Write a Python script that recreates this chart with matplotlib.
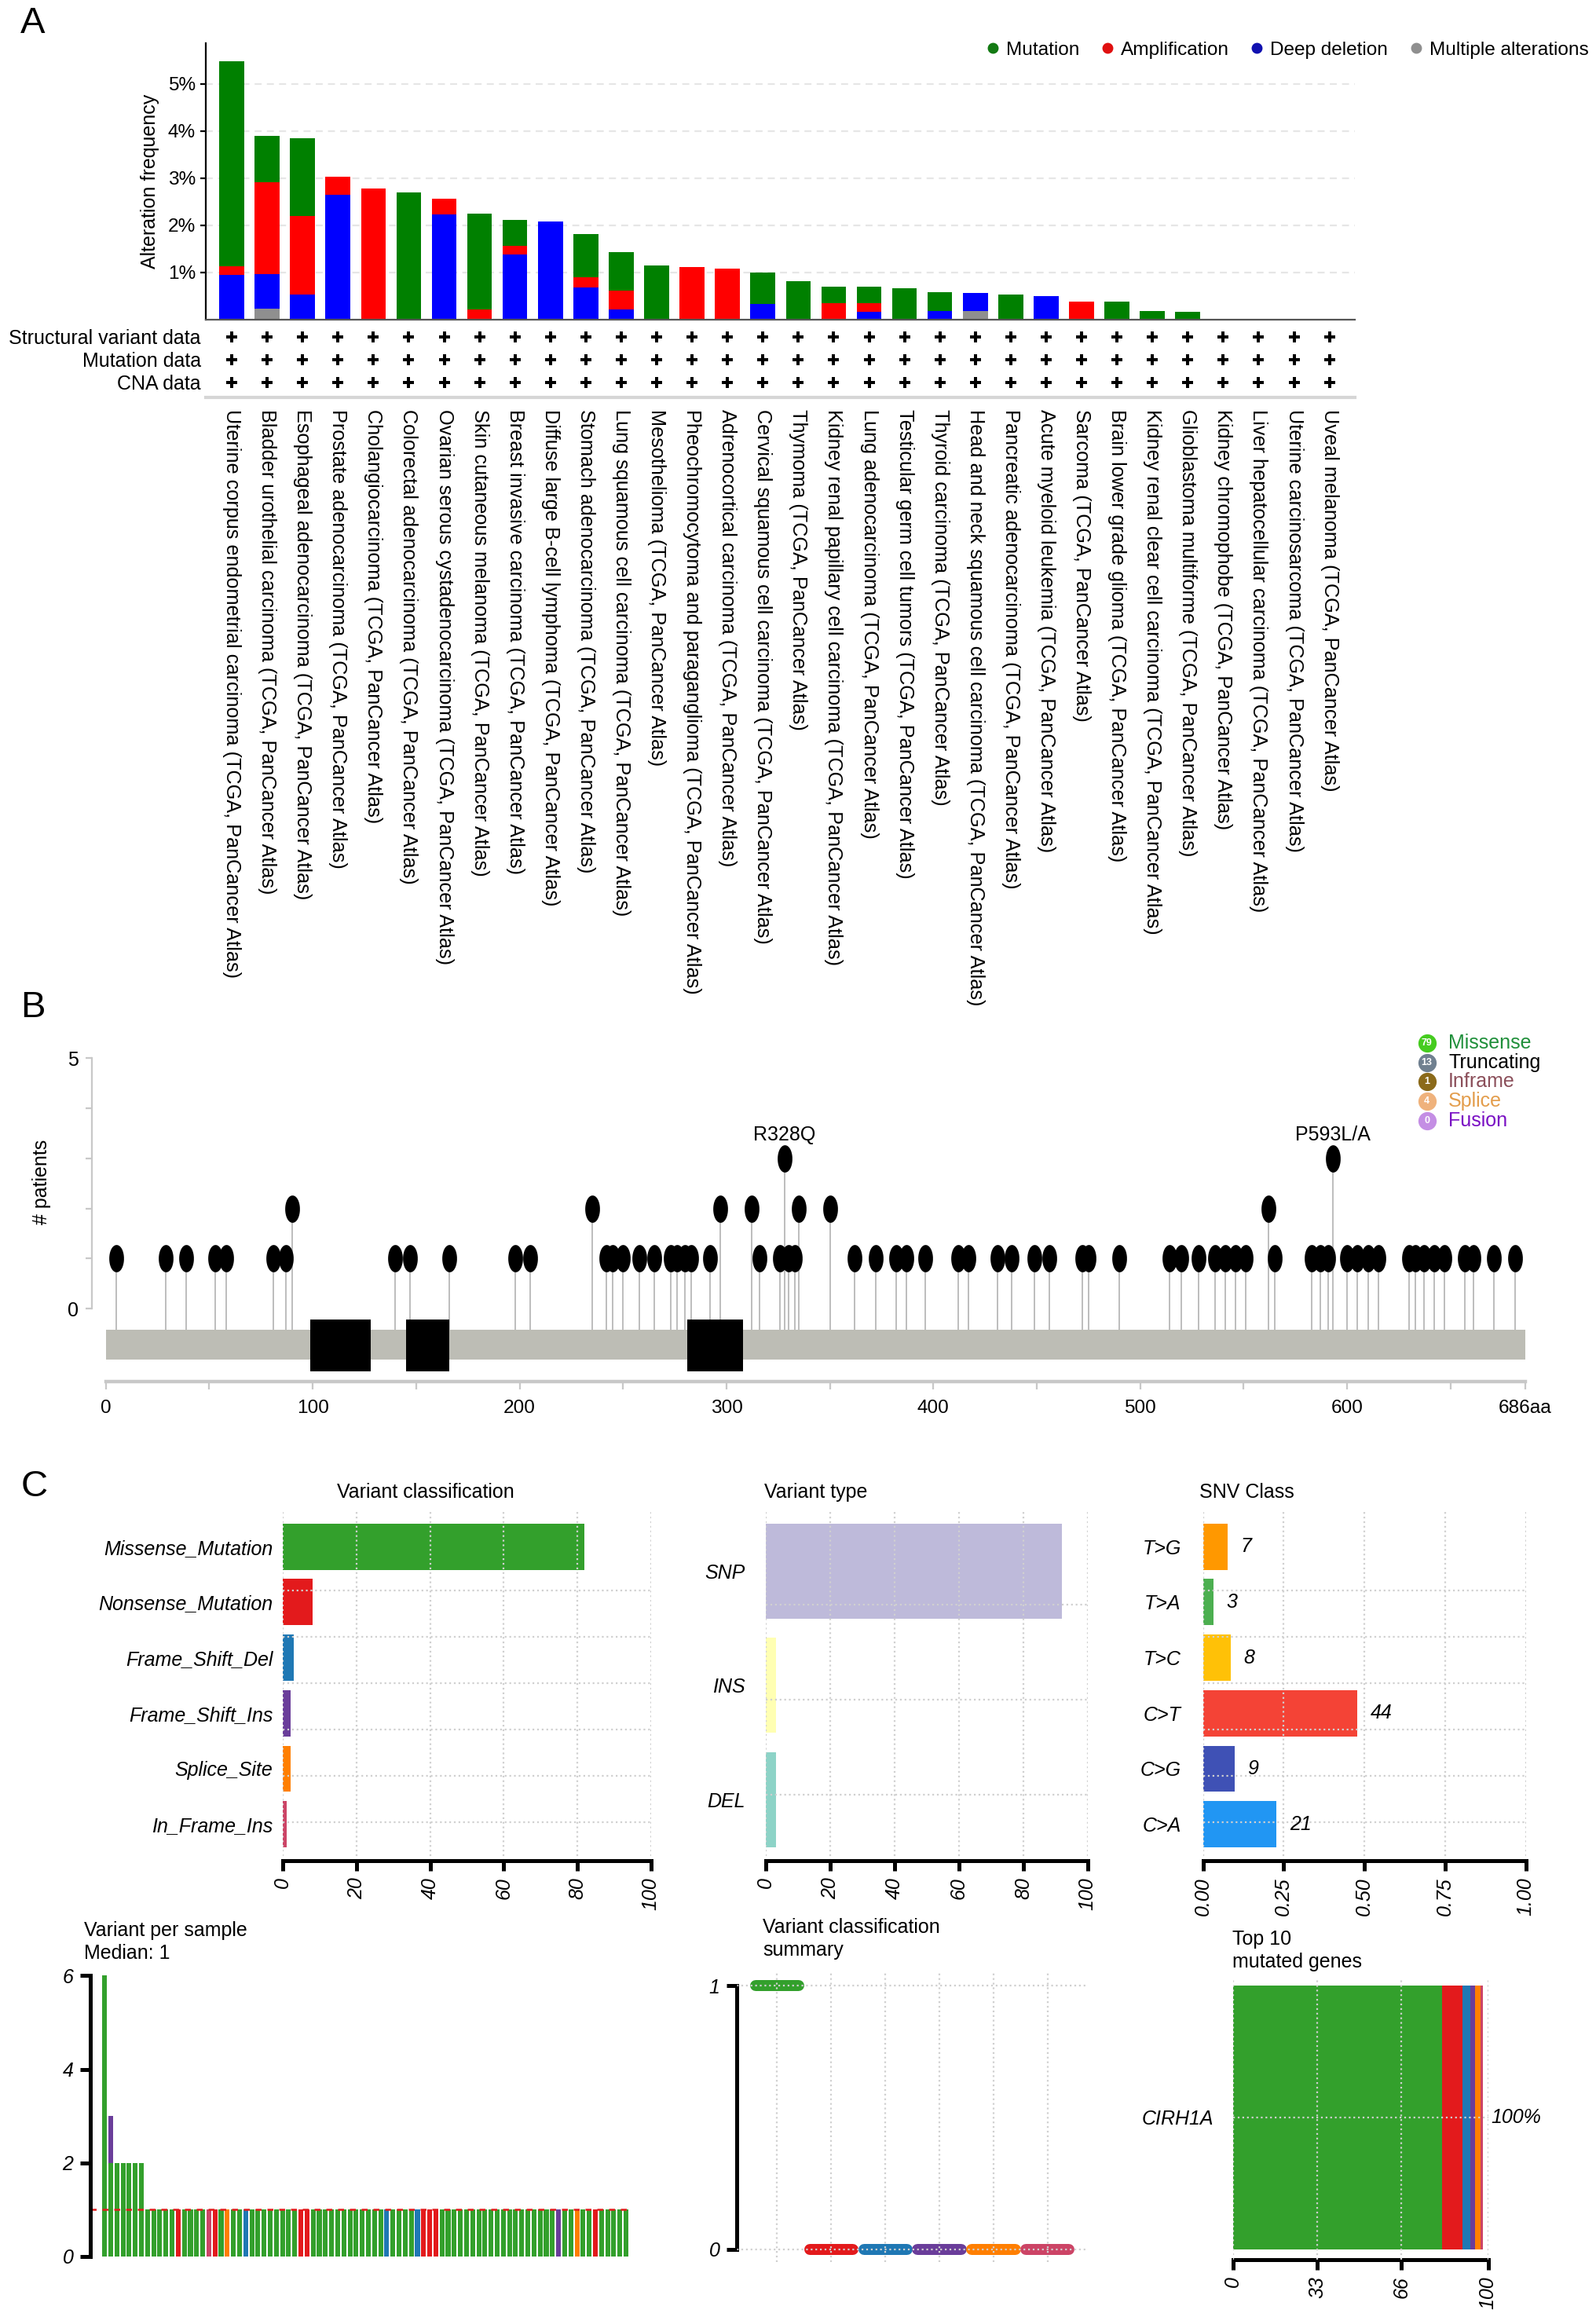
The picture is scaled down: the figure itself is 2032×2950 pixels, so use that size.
import numpy as np
import matplotlib
matplotlib.use('Agg')
import matplotlib.pyplot as plt
from matplotlib.lines import Line2D
from matplotlib.path import Path

plt.rcParams['font.family'] = ['Liberation Sans', 'DejaVu Sans']
plt.rcParams['font.size'] = 9

# ---------------- panel A data (alteration frequency, %)
cancer_types = ['Uterine corpus endometrial carcinoma', 'Bladder urothelial carcinoma',
                'Esophageal adenocarcinoma', 'Prostate adenocarcinoma', 'Cholangiocarcinoma',
                'Colorectal adenocarcinoma', 'Ovarian serous cystadenocarcinoma',
                'Skin cutaneous melanoma', 'Breast invasive carcinoma',
                'Diffuse large B-cell lymphoma', 'Stomach adenocarcinoma',
                'Lung squamous cell carcinoma', 'Mesothelioma',
                'Pheochromocytoma and paraganglioma', 'Adrenocortical carcinoma',
                'Cervical squamous cell carcinoma', 'Thymoma',
                'Kidney renal papillary cell carcinoma', 'Lung adenocarcinoma',
                'Testicular germ cell tumors', 'Thyroid carcinoma',
                'Head and neck squamous cell carcinoma', 'Pancreatic adenocarcinoma',
                'Acute myeloid leukemia', 'Sarcoma', 'Brain lower grade glioma',
                'Kidney renal clear cell carcinoma', 'Glioblastoma multiforme',
                'Kidney chromophobe', 'Liver hepatocellular carcinoma',
                'Uterine carcinosarcoma', 'Uveal melanoma']
study_suffix = ' (TCGA, PanCancer Atlas)'
mutation = [4.34, 0.97, 1.65, 0, 0, 2.69, 0, 2.03, 0.56, 0, 0.91, 0.81, 1.15, 0, 0, 0.66,
            0.81, 0.35, 0.35, 0.66, 0.40, 0, 0.54, 0, 0, 0.38, 0.19, 0.17, 0, 0, 0, 0]
amplification = [0.19, 1.95, 1.65, 0.39, 2.78, 0, 0.34, 0.22, 0.18, 0, 0.21, 0.41, 0, 1.12,
                 1.09, 0, 0, 0.35, 0.18, 0, 0, 0, 0, 0, 0.39, 0, 0, 0, 0, 0, 0, 0]
deep_deletion = [0.95, 0.73, 0.54, 2.64, 0, 0, 2.23, 0, 1.38, 2.08, 0.69, 0.21, 0, 0, 0, 0.34,
                 0, 0, 0.17, 0, 0.19, 0.37, 0, 0.50, 0, 0, 0, 0, 0, 0, 0, 0]
multiple = [0, 0.24, 0, 0, 0, 0, 0, 0, 0, 0, 0, 0, 0, 0, 0, 0,
            0, 0, 0, 0, 0, 0.19, 0, 0, 0, 0, 0, 0, 0, 0, 0, 0]
data_rows = ['Structural variant data', 'Mutation data', 'CNA data']

# ---------------- panel B data (lollipop)
protein_len = 686
pos_1 = [5, 29, 39, 53, 58, 81, 87, 140, 147, 166, 198, 205, 242, 245, 250, 258, 265, 273,
         276, 280, 283, 292, 316, 326, 330, 333, 362, 372, 382, 387, 396, 412, 417, 431, 438,
         449, 456, 472, 475, 490, 514, 520, 528, 536, 541, 546, 551, 565, 583, 587, 591, 600,
         605, 610, 615, 630, 633, 637, 642, 647, 657, 661, 671, 681]
pos_2 = [90, 235, 297, 312, 335, 350, 562]
pos_3 = [328, 593]
hotspot_labels = {328: 'R328Q', 593: 'P593L/A'}
domain_start = [99, 145, 281]
domain_len = [29, 21, 27]
legB_names = ['Missense', 'Truncating', 'Inframe', 'Splice', 'Fusion']
legB_counts = [79, 13, 1, 4, 0]
legB_dot = ['#45cc1f', '#708090', '#8b6a1a', '#efb27c', '#c48ee4']
legB_text = ['#1f8f3a', '#000000', '#8b4f5a', '#e39d4c', '#7a10c4']

# ---------------- panel C data
vc_labels = ['Missense_Mutation', 'Nonsense_Mutation', 'Frame_Shift_Del',
             'Frame_Shift_Ins', 'Splice_Site', 'In_Frame_Ins']
vc_counts = [82, 8, 3, 2, 2, 1]
vc_colors = ['#33a02c', '#e31a1c', '#1f78b4', '#6a3d9a', '#ff7f00', '#cc4466']
vc_codes = ['M', 'N', 'D', 'F', 'S', 'I']
vt_labels = ['SNP', 'INS', 'DEL']
vt_counts = [92, 3, 3]
vt_colors = ['#bebada', '#ffffb3', '#8dd3c7']
snv_labels = ['T>G', 'T>A', 'T>C', 'C>T', 'C>G', 'C>A']
snv_counts = [7, 3, 8, 44, 9, 21]
snv_colors = ['#ff9800', '#4caf50', '#ffc107', '#f44336', '#3f51b5', '#2196f3']
# per sample variant classes (one letter per variant)
vps_samples = ['MMMMMM', 'MMF', 'MM', 'MM', 'MM', 'MM', 'MM'] + list(
    'MMMMMNMMMMINMSMMDMMMMMMMMNNMMMMMMMMMMMMDMMMMDNNN'
    'MMMMMMMMMMMMMMMMMMMFMMSMMNMMMMM')
top_gene = ['CIRH1A']
top_gene_pct = [100]

W, H = 1080.0, 1568.0


def box(x0, y0, x1, y1):
    return [x0 / W, 1 - y1 / H, (x1 - x0) / W, (y1 - y0) / H]


fig = plt.figure(figsize=(10.16, 14.75), dpi=200)

for lab, y in [('A', 16), ('B', 682), ('C', 1006)]:
    fig.text(14 / W, 1 - y / H, lab, fontsize=17, va='center', ha='left')

# ================= A
col_mut, col_amp, col_del, col_mult = '#008000', '#ff0000', '#0000ff', '#8f8f8f'
x = np.arange(len(cancer_types))
axA = fig.add_axes(box(139, 29, 917, 216.3))
b0 = np.zeros(len(x))
for vals, c in [(multiple, col_mult), (deep_deletion, col_del),
                (amplification, col_amp), (mutation, col_mut)]:
    axA.bar(x, vals, bottom=b0, width=0.7, color=c, zorder=2)
    b0 = b0 + np.array(vals)
axA.set_xlim(-0.743, len(x) - 1 + 0.726)
axA.set_ylim(0, 5.87)
axA.set_yticks([1, 2, 3, 4, 5])
axA.set_yticklabels(['%d%%' % v for v in [1, 2, 3, 4, 5]], fontsize=8.8)
axA.set_xticks([])
axA.yaxis.grid(True, ls=(0, (4, 3)), color='#e6e6e6', lw=0.8)
axA.spines['top'].set_visible(False)
axA.spines['right'].set_visible(False)
axA.spines['bottom'].set_color('#555555')
axA.spines['left'].set_linewidth(0.8)
axA.tick_params(axis='y', length=2.5, width=0.8, pad=2)
axA.set_ylabel('Alteration frequency', fontsize=9, labelpad=4)

axL = fig.add_axes(box(139, 219, 917, 269))
for r, name in enumerate(data_rows):
    axL.scatter(x, np.full(len(x), r), marker='P', s=22, color='black', linewidths=0)
axL.set_xlim(axA.get_xlim())
axL.set_ylim(2.68, -0.59)
axL.set_yticks(range(len(data_rows)))
axL.set_yticklabels(data_rows, fontsize=9)
axL.set_xticks(x)
axL.set_xticklabels([c + study_suffix for c in cancer_types], rotation=-90,
                    ha='center', va='top', fontsize=9.1)
axL.tick_params(length=0)
axL.tick_params(axis='x', pad=5.5)
axL.tick_params(axis='y', pad=2)
for s in ['top', 'right', 'left']:
    axL.spines[s].set_visible(False)
axL.spines['bottom'].set_color('#d6d6d6')
axL.spines['bottom'].set_linewidth(1.5)

handles = [Line2D([], [], marker='o', ls='none', ms=4, color=c)
           for c in ['#137a13', '#e01010', '#1010b0', '#8f8f8f']]
fig.legend(handles, ['Mutation', 'Amplification', 'Deep deletion', 'Multiple alterations'],
           loc='center right', bbox_to_anchor=(1075 / W, 1 - 34 / H), ncol=4,
           frameon=False, fontsize=8.8, handlelength=0.7, handletextpad=0.35,
           columnspacing=1.1, borderaxespad=0, borderpad=0)

# ================= B
axB = fig.add_axes(box(62, 709.4, 1040, 939.9))
axB.set_xlim(-6.86, 691.7)
axB.set_ylim(-1.6, 5.2)
axB.barh(-0.716, protein_len, height=0.59, left=0, color='#bdbdb5', zorder=1)
axB.barh(np.full(len(domain_start), -0.729), domain_len, height=1.03, left=domain_start,
         color='black', zorder=3)
lp_pos = pos_1 + pos_2 + pos_3
lp_cnt = [1] * len(pos_1) + [2] * len(pos_2) + [3] * len(pos_3)
axB.vlines(lp_pos, -0.42, lp_cnt, color='#bdbdbd', lw=0.7, zorder=2)
th = np.linspace(0, 2 * np.pi, 60)
oval = Path(np.column_stack([0.5 * np.cos(th), np.sin(th)]))
axB.plot(lp_pos, lp_cnt, ls='none', marker=oval, ms=11.5, color='black', zorder=4)
for p, t in hotspot_labels.items():
    axB.text(p, lp_cnt[lp_pos.index(p)] + 0.47, t, ha='center', va='center', fontsize=9)
for s in ['top', 'right']:
    axB.spines[s].set_visible(False)
axB.spines['left'].set_bounds(0, 5)
axB.spines['left'].set_color('#c8c8c8')
axB.set_yticks([0, 1, 2, 3, 4, 5])
axB.set_yticklabels(['0', '', '', '', '', '5'], fontsize=9)
axB.tick_params(axis='y', length=3, color='#c8c8c8', pad=3)
axB.spines['bottom'].set_position(('data', -1.45))
axB.spines['bottom'].set_bounds(0, protein_len)
axB.spines['bottom'].set_color('#c8c8c8')
axB.spines['bottom'].set_linewidth(1.6)
bt = list(range(0, 651, 50)) + [protein_len]
axB.set_xticks(bt)
axB.set_xticklabels([str(v) if v % 100 == 0 else '' for v in bt[:-1]] + ['%daa' % protein_len],
                    fontsize=8.8)
axB.tick_params(axis='x', length=3.5, color='#c8c8c8', pad=5)
axB.set_ylabel('# patients', fontsize=9)
axB.yaxis.set_label_coords(-0.028, 0.607)

legB = fig.add_axes(box(955, 698, 1060, 765))
legB.set_xlim(0, 1)
legB.set_ylim(len(legB_names) - 0.5, -0.6)
legB.axis('off')
for i, (nm, n, dc, tc) in enumerate(zip(legB_names, legB_counts, legB_dot, legB_text)):
    legB.scatter(0.1, i, s=70, color=dc, linewidths=0)
    legB.text(0.1, i, str(n), color='white', fontsize=4.5, ha='center', va='center',
              fontweight='bold')
    legB.text(0.24, i, nm, color=tc, fontsize=9, ha='left', va='center')

# ================= C row 1
def class_bars(rect, labels, values, colors, xmax, xticks, xticklabels, ylim, grid_y, ypad):
    ax = fig.add_axes(rect)
    centers = 0.7 + 1.2 * np.arange(len(labels))
    ax.barh(centers, values, height=1.0, color=colors)
    ax.set_xlim(0, xmax)
    ax.set_ylim(*ylim)
    ax.set_yticks(centers)
    ax.set_yticklabels(labels, fontstyle='italic', fontsize=9)
    ax.set_yticks(grid_y, minor=True)
    ax.tick_params(axis='y', which='both', length=0, pad=ypad)
    ax.set_xticks(xticks)
    ax.set_xticklabels(xticklabels, rotation=90, fontstyle='italic', fontsize=9, va='top')
    ax.tick_params(axis='x', length=4.7, width=1.8, pad=3)
    for s in ['top', 'right', 'left']:
        ax.spines[s].set_visible(False)
    ax.spines['bottom'].set_linewidth(1.8)
    ax.spines['bottom'].set_bounds(0, xmax)
    ax.xaxis.grid(True, ls=':', color='#d0d0d0', lw=0.8)
    ax.yaxis.grid(True, which='minor', ls=':', color='#d0d0d0', lw=0.8)
    return ax, centers


axVC, _ = class_bars(box(191.5, 1022, 440.4, 1259), vc_labels, vc_counts, vc_colors, 100,
                     [0, 20, 40, 60, 80, 100], ['0', '20', '40', '60', '80', '100'],
                     (7.48, -0.086), [1.65, 2.65, 3.65, 4.65, 5.65, 6.65], 4.7)
axVT, _ = class_bars(box(518.4, 1022, 736, 1259), vt_labels, vt_counts, vt_colors, 100,
                     [0, 20, 40, 60, 80, 100], ['0', '20', '40', '60', '80', '100'],
                     (3.74, 0.06), [1.05, 2.05, 3.05], 9.5)
snv_frac = np.array(snv_counts) / sum(snv_counts)
axSNV, snv_c = class_bars(box(814, 1022, 1032.6, 1259), snv_labels, snv_frac, snv_colors, 1.0,
                          [0, 0.25, 0.5, 0.75, 1.0], ['0.00', '0.25', '0.50', '0.75', '1.00'],
                          (7.48, -0.086), [1.65, 2.65, 3.65, 4.65, 5.65, 6.65], 10)
for yc, f, n in zip(snv_c, snv_frac, snv_counts):
    axSNV.text(f + 0.04, yc, str(n), fontstyle='italic', fontsize=9, va='center', ha='left')

fig.text(228 / W, 1 - 1010 / H, 'Variant classification', fontsize=9, va='center')
fig.text(517 / W, 1 - 1010 / H, 'Variant type', fontsize=9, va='center')
fig.text(811.5 / W, 1 - 1010 / H, 'SNV Class', fontsize=9, va='center')

# ================= C row 2
per_class = np.array([[s.count(c) for s in vps_samples] for c in vc_codes])
totals = per_class.sum(axis=0)
idx = np.arange(len(vps_samples))

axVPS = fig.add_axes(box(61, 1333.8, 425.7, 1530.2))
bot = np.zeros(len(idx))
for k in range(len(vc_codes)):
    axVPS.bar(idx, per_class[k], bottom=bot, width=0.78, color=vc_colors[k], linewidth=0)
    bot = bot + per_class[k]
med = np.median(totals)
axVPS.axhline(med, color='#e31a1c', ls=(0, (3, 3)), lw=0.9)
axVPS.set_xlim(-2.35, len(idx) - 0.5)
axVPS.set_ylim(-0.1, 6.1)
axVPS.set_xticks([])
axVPS.set_yticks([0, 2, 4, 6])
axVPS.set_yticklabels(['0', '2', '4', '6'], fontstyle='italic', fontsize=9)
axVPS.tick_params(axis='y', length=4.7, width=1.8, pad=3)
for s in ['top', 'right', 'bottom']:
    axVPS.spines[s].set_visible(False)
axVPS.spines['left'].set_linewidth(1.8)
axVPS.spines['left'].set_bounds(0, 6)
fig.text(57 / W, 1 - 1300 / H, 'Variant per sample\nMedian: %d' % med, fontsize=9,
         va='top', ha='left', linespacing=1.25)

axBX = fig.add_axes(box(498.6, 1335, 734.6, 1531))
bp = axBX.boxplot([per_class[k] for k in range(len(vc_codes))],
                  positions=np.arange(1, len(vc_codes) + 1), widths=0.8,
                  patch_artist=True, showfliers=False, showcaps=False)
for k, patch in enumerate(bp['boxes']):
    patch.set_facecolor(vc_colors[k])
    patch.set_edgecolor(vc_colors[k])
    patch.set_linewidth(5)
    patch.set_joinstyle('round')
for k, m in enumerate(bp['medians']):
    m.set_color(vc_colors[k])
    m.set_linewidth(5)
    m.set_solid_capstyle('round')
for w in bp['whiskers']:
    w.set_visible(False)
axBX.set_xlim(0.257, 6.70)
axBX.set_ylim(-0.05, 1.05)
axBX.set_xticks(np.arange(1, len(vc_codes) + 1))
axBX.set_xticklabels([])
axBX.tick_params(axis='x', length=0)
axBX.set_yticks([0, 1])
axBX.set_yticklabels(['0', '1'], fontstyle='italic', fontsize=9)
axBX.tick_params(axis='y', length=4.7, width=1.8, pad=3)
for s in ['top', 'right', 'bottom']:
    axBX.spines[s].set_visible(False)
axBX.spines['left'].set_linewidth(1.8)
axBX.spines['left'].set_bounds(0, 1)
axBX.set_axisbelow(False)
axBX.grid(True, ls=':', color='#d0d0d0', lw=0.8)
fig.text(516 / W, 1 - 1298 / H, 'Variant classification\nsummary', fontsize=9,
         va='top', ha='left', linespacing=1.25)

axTG = fig.add_axes(box(834.6, 1340, 1007, 1529))
left = 0
for k in range(len(vc_codes)):
    axTG.barh(0, vc_counts[k], left=left, height=1.0, color=vc_colors[k])
    left += vc_counts[k]
axTG.set_xlim(0, 100)
axTG.set_ylim(-0.539, 0.522)
axTG.set_yticks([0])
axTG.set_yticklabels(top_gene, fontstyle='italic', fontsize=9)
axTG.tick_params(axis='y', length=0, pad=9)
axTG.set_xticks([0, 33, 66, 100])
axTG.set_xticklabels(['0', '33', '66', '100'], rotation=90, fontstyle='italic', fontsize=9,
                     va='top')
axTG.tick_params(axis='x', length=4.7, width=1.8, pad=3)
for s in ['top', 'right', 'left']:
    axTG.spines[s].set_visible(False)
axTG.spines['bottom'].set_linewidth(1.8)
axTG.grid(True, ls=':', color='#cfcfcf', lw=0.8)
axTG.set_axisbelow(False)
axTG.text(101, 0, '%d%%' % top_gene_pct[0], fontstyle='italic', fontsize=9, va='center',
          ha='left', clip_on=False)
fig.text(834 / W, 1 - 1306 / H, 'Top 10\nmutated genes', fontsize=9, va='top', ha='left',
         linespacing=1.25)

fig.savefig('out.png', dpi=200)
